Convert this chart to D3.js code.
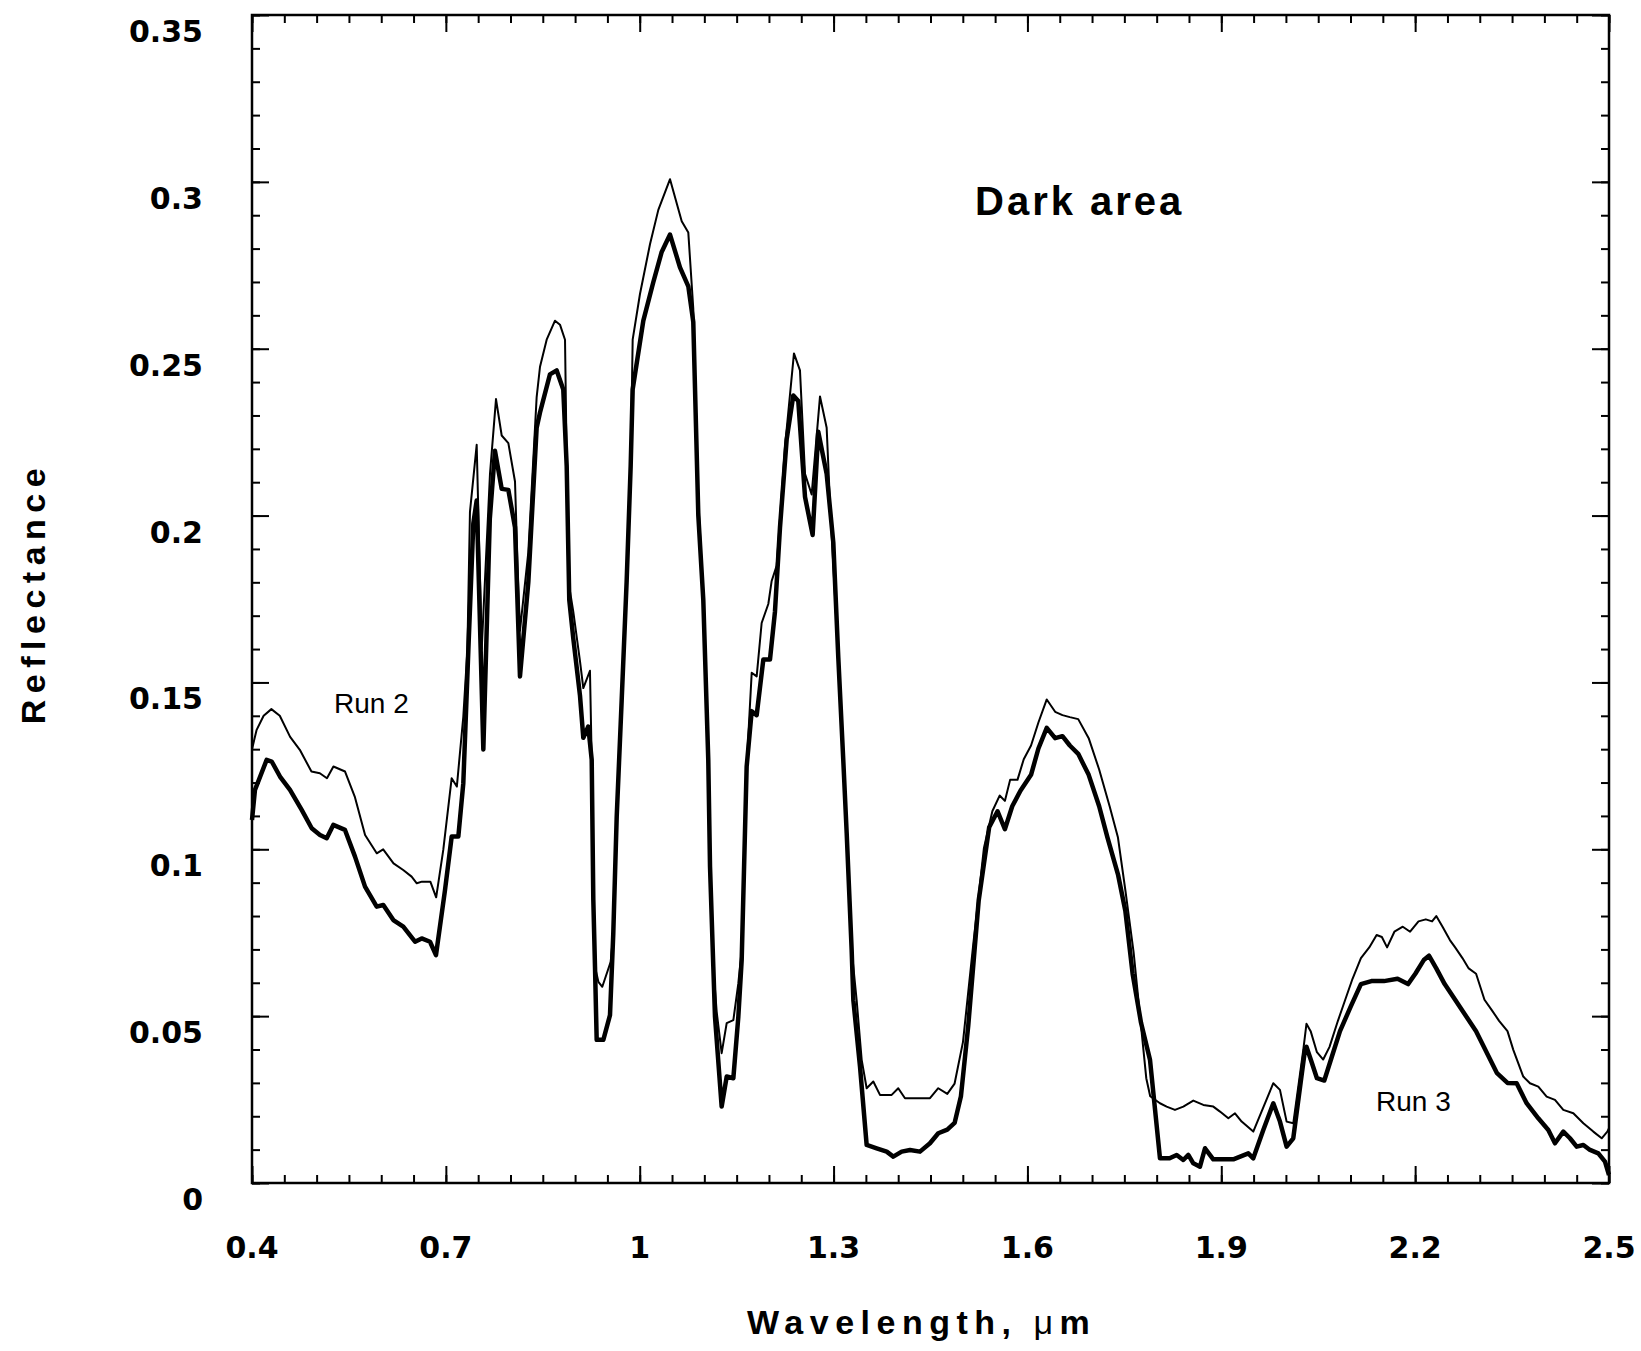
<!DOCTYPE html>
<html>
<head>
<meta charset="utf-8">
<script src="https://cdn.jsdelivr.net/npm/d3@7"></script>
<style>
	body { margin: 0; background: #fff; }
	svg { display: block; background: #fff; }
	.tick-label { font-family: 'DejaVu Sans', sans-serif; font-weight: bold; font-size: 30px; fill: #000; }
	.axis-title { font-family: 'Liberation Sans', Arial, sans-serif; font-weight: bold; font-size: 34px; letter-spacing: 6.5px; fill: #000; }
	.chart-title { font-family: 'Liberation Sans', Arial, sans-serif; font-weight: bold; font-size: 40px; letter-spacing: 3px; fill: #000; }
	.run-label { font-family: 'Liberation Sans', Arial, sans-serif; font-size: 28px; fill: #000; }
</style>
</head>
<body>
<svg id="chart" width="1641" height="1351"></svg>
<script>
// axis ticks
const xMajorTicks = [0.4, 0.7, 1.0, 1.3, 1.6, 1.9, 2.2, 2.5];
const xTickLabels = ['0.4', '0.7', '1', '1.3', '1.6', '1.9', '2.2', '2.5'];
const yMajorTicks = [0, 0.05, 0.1, 0.15, 0.2, 0.25, 0.3, 0.35];
const yTickLabels = ['0', '0.05', '0.1', '0.15', '0.2', '0.25', '0.3', '0.35'];

// Run 2 (thin line)
const run2Wavelength = [
	0.400, 0.407, 0.418, 0.430, 0.443, 0.459, 0.474, 0.492, 0.505, 0.516,
	0.526, 0.544, 0.559, 0.575, 0.593, 0.603, 0.619, 0.634, 0.647, 0.655,
	0.663, 0.676, 0.685, 0.696, 0.709, 0.717, 0.727, 0.7333, 0.7373, 0.7477,
	0.7555, 0.7683, 0.7776, 0.7864, 0.7967, 0.8070, 0.8110, 0.8147, 0.8276, 0.8405,
	0.8457, 0.8560, 0.8689, 0.8766, 0.8844, 0.8895, 0.8972, 0.9076, 0.9127, 0.9230,
	0.9257, 0.9282, 0.9308, 0.9360, 0.9421, 0.9551, 0.9591, 0.9644, 0.9721, 0.9798,
	0.9860, 0.9891, 1.0004, 1.0159, 1.0288, 1.0469, 1.0650, 1.0752, 1.0829, 1.0907,
	1.0984, 1.1061, 1.1088, 1.1139, 1.1191, 1.1268, 1.1346, 1.1449, 1.1526, 1.1578,
	1.1655, 1.1733, 1.1810, 1.1887, 1.1990, 1.2042, 1.2120, 1.2248, 1.2387, 1.2480,
	1.2558, 1.2661, 1.2790, 1.2893, 1.2945, 1.3073, 1.3150, 1.3203, 1.3280, 1.3357,
	1.3435, 1.3512, 1.3615, 1.3718, 1.3899, 1.4001, 1.4105, 1.4492, 1.4620, 1.4760,
	1.4873, 1.5003, 1.5165, 1.5327, 1.5457, 1.5570, 1.5651, 1.5732, 1.5846, 1.5943,
	1.6056, 1.6170, 1.6299, 1.6429, 1.6542, 1.6656, 1.6786, 1.6948, 1.7110, 1.7272,
	1.7401, 1.7515, 1.7644, 1.7758, 1.7839, 1.7900, 1.8051, 1.8154, 1.8283, 1.8412,
	1.8567, 1.8722, 1.8877, 1.8980, 1.9109, 1.9212, 1.9315, 1.9495, 1.9805, 1.9908,
	2.0011, 2.0114, 2.0269, 2.0318, 2.0383, 2.0480, 2.0577, 2.0675, 2.0805, 2.0918,
	2.1031, 2.1161, 2.1290, 2.1404, 2.1485, 2.1566, 2.1679, 2.1809, 2.1922, 2.2052,
	2.2165, 2.2262, 2.2327, 2.2424, 2.2538, 2.2619, 2.2732, 2.2829, 2.2943, 2.3073,
	2.3186, 2.3299, 2.3429, 2.3519, 2.3673, 2.3777, 2.3906, 2.4035, 2.4164, 2.4293,
	2.4448, 2.4603, 2.4757, 2.4887, 2.4974, 2.5000
];
const run2Reflectance = [
	0.1300, 0.1357, 0.1400, 0.1420, 0.1400, 0.1337, 0.1298, 0.1233, 0.1228, 0.1213,
	0.1248, 0.1233, 0.1158, 0.1043, 0.0988, 0.1000, 0.0958, 0.0938, 0.0918, 0.0898,
	0.0903, 0.0903, 0.0856, 0.0998, 0.1213, 0.1188, 0.1397, 0.1597, 0.2011, 0.2212,
	0.1600, 0.2125, 0.2349, 0.2240, 0.2217, 0.2102, 0.1850, 0.1655, 0.1890, 0.2355,
	0.2446, 0.2527, 0.2584, 0.2572, 0.2527, 0.1804, 0.1712, 0.1563, 0.1483, 0.1535,
	0.1268, 0.0848, 0.0648, 0.0603, 0.0588, 0.0663, 0.0748, 0.1098, 0.1447, 0.1804,
	0.2148, 0.2527, 0.2664, 0.2813, 0.2916, 0.3008, 0.2882, 0.2848, 0.2620, 0.2050,
	0.1747, 0.1268, 0.0948, 0.0648, 0.0513, 0.0389, 0.0479, 0.0488, 0.0598, 0.0698,
	0.1248, 0.1529, 0.1518, 0.1678, 0.1735, 0.1804, 0.1850, 0.2206, 0.2486, 0.2435,
	0.2125, 0.2063, 0.2357, 0.2263, 0.2034, 0.1575, 0.1268, 0.1048, 0.0698, 0.0548,
	0.0369, 0.0284, 0.0304, 0.0264, 0.0264, 0.0284, 0.0254, 0.0254, 0.0284, 0.0267,
	0.0298, 0.0423, 0.0721, 0.1004, 0.1114, 0.1161, 0.1145, 0.1208, 0.1208, 0.1270,
	0.1311, 0.1380, 0.1449, 0.1412, 0.1402, 0.1396, 0.1390, 0.1333, 0.1239, 0.1129,
	0.1035, 0.0878, 0.0690, 0.0471, 0.0314, 0.0260, 0.0239, 0.0229, 0.0219, 0.0229,
	0.0247, 0.0234, 0.0229, 0.0214, 0.0194, 0.0209, 0.0184, 0.0154, 0.0299, 0.0279,
	0.0184, 0.0179, 0.0399, 0.0477, 0.0455, 0.0392, 0.0370, 0.0408, 0.0486, 0.0549,
	0.0612, 0.0674, 0.0706, 0.0743, 0.0737, 0.0706, 0.0753, 0.0768, 0.0753, 0.0784,
	0.0790, 0.0784, 0.0800, 0.0768, 0.0728, 0.0706, 0.0674, 0.0643, 0.0627, 0.0549,
	0.0518, 0.0486, 0.0455, 0.0399, 0.0319, 0.0299, 0.0289, 0.0259, 0.0249, 0.0219,
	0.0209, 0.0179, 0.0154, 0.0134, 0.0154, 0.0164
];

// Run 3 (thick line)
const run3Wavelength = [
	0.400, 0.4046, 0.4227, 0.4305, 0.4433, 0.4588, 0.4769, 0.4924, 0.5052, 0.5156,
	0.5258, 0.5439, 0.5594, 0.5749, 0.5930, 0.6032, 0.6187, 0.6341, 0.6523, 0.6626,
	0.6755, 0.6847, 0.6987, 0.7090, 0.7193, 0.7270, 0.7348, 0.7425, 0.7477, 0.7580,
	0.7680, 0.7760, 0.7864, 0.7967, 0.8070, 0.8147, 0.8276, 0.8405, 0.8457, 0.8611,
	0.8715, 0.8817, 0.8870, 0.8910, 0.8972, 0.9076, 0.9127, 0.9204, 0.9257, 0.9282,
	0.9308, 0.9334, 0.9437, 0.9540, 0.9591, 0.9644, 0.9721, 0.9798, 0.9860, 0.9891,
	1.0056, 1.0210, 1.0340, 1.0469, 1.0623, 1.0752, 1.0829, 1.0907, 1.0984, 1.1061,
	1.1088, 1.1139, 1.1165, 1.1268, 1.1346, 1.1449, 1.1526, 1.1578, 1.1655, 1.1733,
	1.1810, 1.1913, 1.2016, 1.2093, 1.2171, 1.2274, 1.2377, 1.2454, 1.2558, 1.2676,
	1.2763, 1.2893, 1.2996, 1.3073, 1.3150, 1.3203, 1.3280, 1.3306, 1.3409, 1.3512,
	1.3667, 1.3822, 1.3924, 1.4054, 1.4183, 1.4337, 1.4492, 1.4620, 1.4760, 1.4873,
	1.4971, 1.5084, 1.5246, 1.5408, 1.5538, 1.5651, 1.5765, 1.5894, 1.6056, 1.6170,
	1.6299, 1.6429, 1.6542, 1.6656, 1.6786, 1.6948, 1.7110, 1.7239, 1.7401, 1.7515,
	1.7628, 1.7758, 1.7897, 1.8051, 1.8200, 1.8310, 1.8412, 1.8490, 1.8567, 1.8670,
	1.8748, 1.8876, 1.9186, 1.9418, 1.9495, 1.9650, 1.9805, 1.9908, 2.0011, 2.0114,
	2.0295, 2.0318, 2.0400, 2.0480, 2.0594, 2.0707, 2.0837, 2.0999, 2.1161, 2.1323,
	2.1517, 2.1728, 2.1890, 2.2003, 2.2133, 2.2214, 2.2327, 2.2457, 2.2619, 2.2781,
	2.2943, 2.3105, 2.3267, 2.3429, 2.3571, 2.3725, 2.3906, 2.4061, 2.4164, 2.4293,
	2.4396, 2.4500, 2.4603, 2.4706, 2.4835, 2.4938, 2.5000
];
const run3Reflectance = [
	0.1088, 0.1178, 0.1268, 0.1263, 0.1218, 0.1178, 0.1118, 0.1063, 0.1043, 0.1033,
	0.1073, 0.1058, 0.0978, 0.0888, 0.0828, 0.0833, 0.0788, 0.0768, 0.0723, 0.0733,
	0.0723, 0.0683, 0.0878, 0.1038, 0.1038, 0.1198, 0.1597, 0.1976, 0.2045, 0.1299,
	0.1990, 0.2194, 0.2080, 0.2077, 0.1965, 0.1518, 0.1800, 0.2263, 0.2309, 0.2423,
	0.2435, 0.2378, 0.2148, 0.1747, 0.1632, 0.1460, 0.1334, 0.1368, 0.1268, 0.0848,
	0.0648, 0.0429, 0.0429, 0.0503, 0.0748, 0.1098, 0.1447, 0.1804, 0.2148, 0.2378,
	0.2584, 0.2699, 0.2790, 0.2842, 0.2744, 0.2687, 0.2580, 0.2000, 0.1747, 0.1268,
	0.0948, 0.0648, 0.0498, 0.0229, 0.0319, 0.0314, 0.0498, 0.0668, 0.1248, 0.1414,
	0.1402, 0.1569, 0.1569, 0.1712, 0.1965, 0.2228, 0.2360, 0.2343, 0.2056, 0.1942,
	0.2251, 0.2125, 0.1919, 0.1575, 0.1268, 0.1048, 0.0698, 0.0548, 0.0349, 0.0114,
	0.0104, 0.0094, 0.0079, 0.0094, 0.0099, 0.0094, 0.0119, 0.0149, 0.0160, 0.0180,
	0.0260, 0.0471, 0.0847, 0.1066, 0.1114, 0.1060, 0.1129, 0.1176, 0.1223, 0.1302,
	0.1364, 0.1333, 0.1339, 0.1311, 0.1286, 0.1223, 0.1129, 0.1035, 0.0925, 0.0816,
	0.0627, 0.0480, 0.0369, 0.0074, 0.0074, 0.0084, 0.0069, 0.0084, 0.0059, 0.0049,
	0.0104, 0.0071, 0.0071, 0.0089, 0.0074, 0.0159, 0.0239, 0.0184, 0.0109, 0.0134,
	0.0399, 0.0408, 0.0361, 0.0314, 0.0307, 0.0376, 0.0455, 0.0527, 0.0596, 0.0605,
	0.0605, 0.0612, 0.0596, 0.0627, 0.0668, 0.0681, 0.0643, 0.0596, 0.0549, 0.0502,
	0.0455, 0.0392, 0.0329, 0.0300, 0.0299, 0.0239, 0.0194, 0.0159, 0.0119, 0.0154,
	0.0134, 0.0109, 0.0114, 0.0099, 0.0089, 0.0064, 0.0024
];

const SpectrumView = {
	plot: { left: 252, right: 1609, top: 15, bottom: 1183 },
	xScale: null, yScale: null,
	svg: null,

	init: function() {
		const self = this;
		let plot = self.plot;

		self.svg = d3.select('#chart');
		self.xScale = d3.scaleLinear()
			.domain([ 0.4, 2.5 ])
			.range([ plot.left, plot.right ]);
		self.yScale = d3.scaleLinear()
			.domain([ 0, 0.35 ])
			.range([ plot.bottom, plot.top ]);

		self.drawAxes();
		self.drawLine(run2Wavelength, run2Reflectance, 2, 'run2');
		self.drawLine(run3Wavelength, run3Reflectance, 4.5, 'run3');
		self.drawTexts();
	},

	// axes

	drawAxes: function() {
		const self = this;
		let svg = self.svg;
		let plot = self.plot;
		let xScale = self.xScale;
		let yScale = self.yScale;
		let xMinor = d3.range(0, 43).map(function(i) { return 0.4 + i * 0.05; });
		let yMinor = d3.range(0, 36).map(function(i) { return i * 0.01; });

		let addTicks = function(axis, transform) {
			let g = svg.append('g')
				.attr('transform', transform)
				.call(axis);
			g.select('.domain').remove();
			g.selectAll('.tick line')
				.style('stroke', '#000')
				.style('stroke-width', 2);
		};

		// minor ticks, all four sides, pointing inward
		addTicks(d3.axisBottom(xScale).tickValues(xMinor).tickSize(-8).tickFormat(''), 'translate(0,' + plot.bottom + ')');
		addTicks(d3.axisTop(xScale).tickValues(xMinor).tickSize(-8).tickFormat(''), 'translate(0,' + plot.top + ')');
		addTicks(d3.axisLeft(yScale).tickValues(yMinor).tickSize(-8).tickFormat(''), 'translate(' + plot.left + ',0)');
		addTicks(d3.axisRight(yScale).tickValues(yMinor).tickSize(-8).tickFormat(''), 'translate(' + plot.right + ',0)');

		// major ticks
		addTicks(d3.axisBottom(xScale).tickValues(xMajorTicks).tickSize(-17).tickFormat(''), 'translate(0,' + plot.bottom + ')');
		addTicks(d3.axisTop(xScale).tickValues(xMajorTicks).tickSize(-17).tickFormat(''), 'translate(0,' + plot.top + ')');
		addTicks(d3.axisLeft(yScale).tickValues(yMajorTicks).tickSize(-17).tickFormat(''), 'translate(' + plot.left + ',0)');
		addTicks(d3.axisRight(yScale).tickValues(yMajorTicks).tickSize(-17).tickFormat(''), 'translate(' + plot.right + ',0)');

		svg.append('rect')
			.attr('x', plot.left)
			.attr('y', plot.top)
			.attr('width', plot.right - plot.left)
			.attr('height', plot.bottom - plot.top)
			.style('fill', 'none')
			.style('stroke', '#000')
			.style('stroke-width', 2.5);

		// tick labels (the y labels sit a little below their ticks, as in the scan)
		svg.selectAll('.x-label')
			.data(xMajorTicks)
			.enter().append('text')
			.attr('class', 'tick-label x-label')
			.attr('x', function(d) { return xScale(d); })
			.attr('y', 1258)
			.style('text-anchor', 'middle')
			.text(function(d, i) { return xTickLabels[i]; });
		svg.selectAll('.y-label')
			.data(yMajorTicks)
			.enter().append('text')
			.attr('class', 'tick-label y-label')
			.attr('x', 203)
			.attr('y', function(d) { return yScale(d) + 27; })
			.style('text-anchor', 'end')
			.text(function(d, i) { return yTickLabels[i]; });
	},

	// lines

	drawLine: function(wavelength, reflectance, width, className) {
		const self = this;
		let xScale = self.xScale;
		let yScale = self.yScale;
		let data = wavelength.map(function(w, i) { return { w: w, r: reflectance[i] }; });
		let line = d3.line()
			.x(function(d) { return xScale(d.w); })
			.y(function(d) { return yScale(d.r); });

		self.svg.append('path')
			.datum(data)
			.attr('class', className + '-line')
			.attr('d', line)
			.style('fill', 'none')
			.style('stroke', '#000')
			.style('stroke-width', width)
			.style('stroke-linejoin', 'round');
	},

	// texts

	drawTexts: function() {
		const self = this;
		let svg = self.svg;

		svg.append('text')
			.attr('class', 'chart-title')
			.attr('x', 975)
			.attr('y', 215)
			.text('Dark area');
		svg.append('text')
			.attr('class', 'run-label')
			.attr('x', 334)
			.attr('y', 713)
			.text('Run 2');
		svg.append('text')
			.attr('class', 'run-label')
			.attr('x', 1376)
			.attr('y', 1111)
			.text('Run 3');

		svg.append('text')
			.attr('class', 'axis-title')
			.attr('transform', 'translate(45,596) rotate(-90)')
			.attr('dx', 3)
			.style('text-anchor', 'middle')
			.text('Reflectance');

		let xTitle = svg.append('text')
			.attr('class', 'axis-title')
			.attr('x', 747)
			.attr('y', 1334);
		xTitle.append('tspan').text('Wavelength, ');
		xTitle.append('tspan').style('font-weight', 'normal').text('μ');
		xTitle.append('tspan').text('m');
	}
}

SpectrumView.init();
</script>
</body>
</html>
